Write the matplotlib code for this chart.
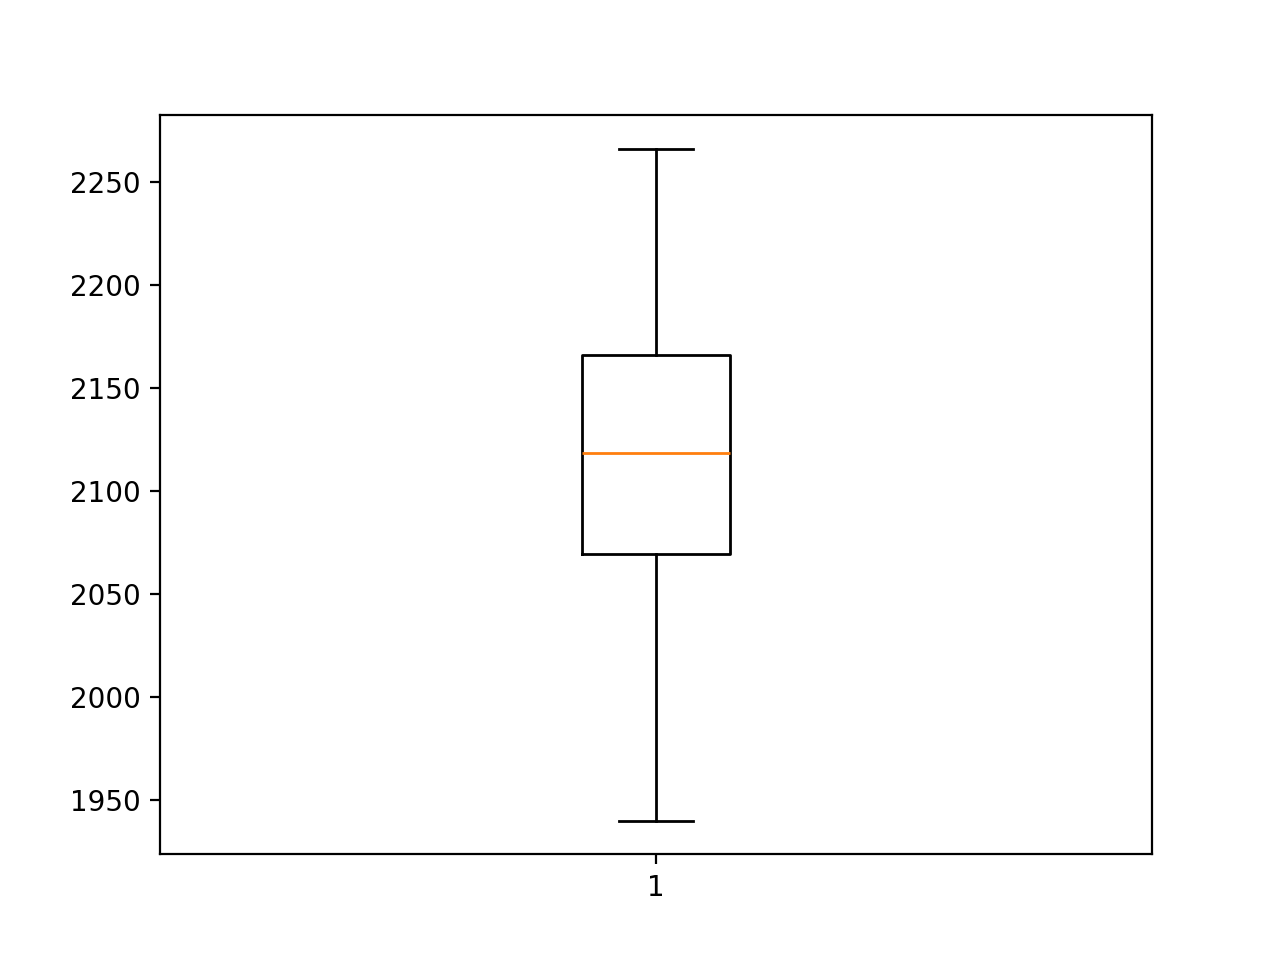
import matplotlib
matplotlib.use("Agg")
import matplotlib.pyplot as plt

# Box summary.
labels = ["1"]
whisker_low = [1940.0]
q1 = [2069.4]
median = [2118.4]
q3 = [2166.0]
whisker_high = [2266.0]

stats = [
    {
        "label": labels[i],
        "whislo": whisker_low[i],
        "q1": q1[i],
        "med": median[i],
        "q3": q3[i],
        "whishi": whisker_high[i],
        "fliers": [],
    }
    for i in range(len(labels))
]

fig, ax = plt.subplots(figsize=(6.4, 4.8), dpi=200)
ax.bxp(stats)

fig.savefig("out.png", dpi=200)
